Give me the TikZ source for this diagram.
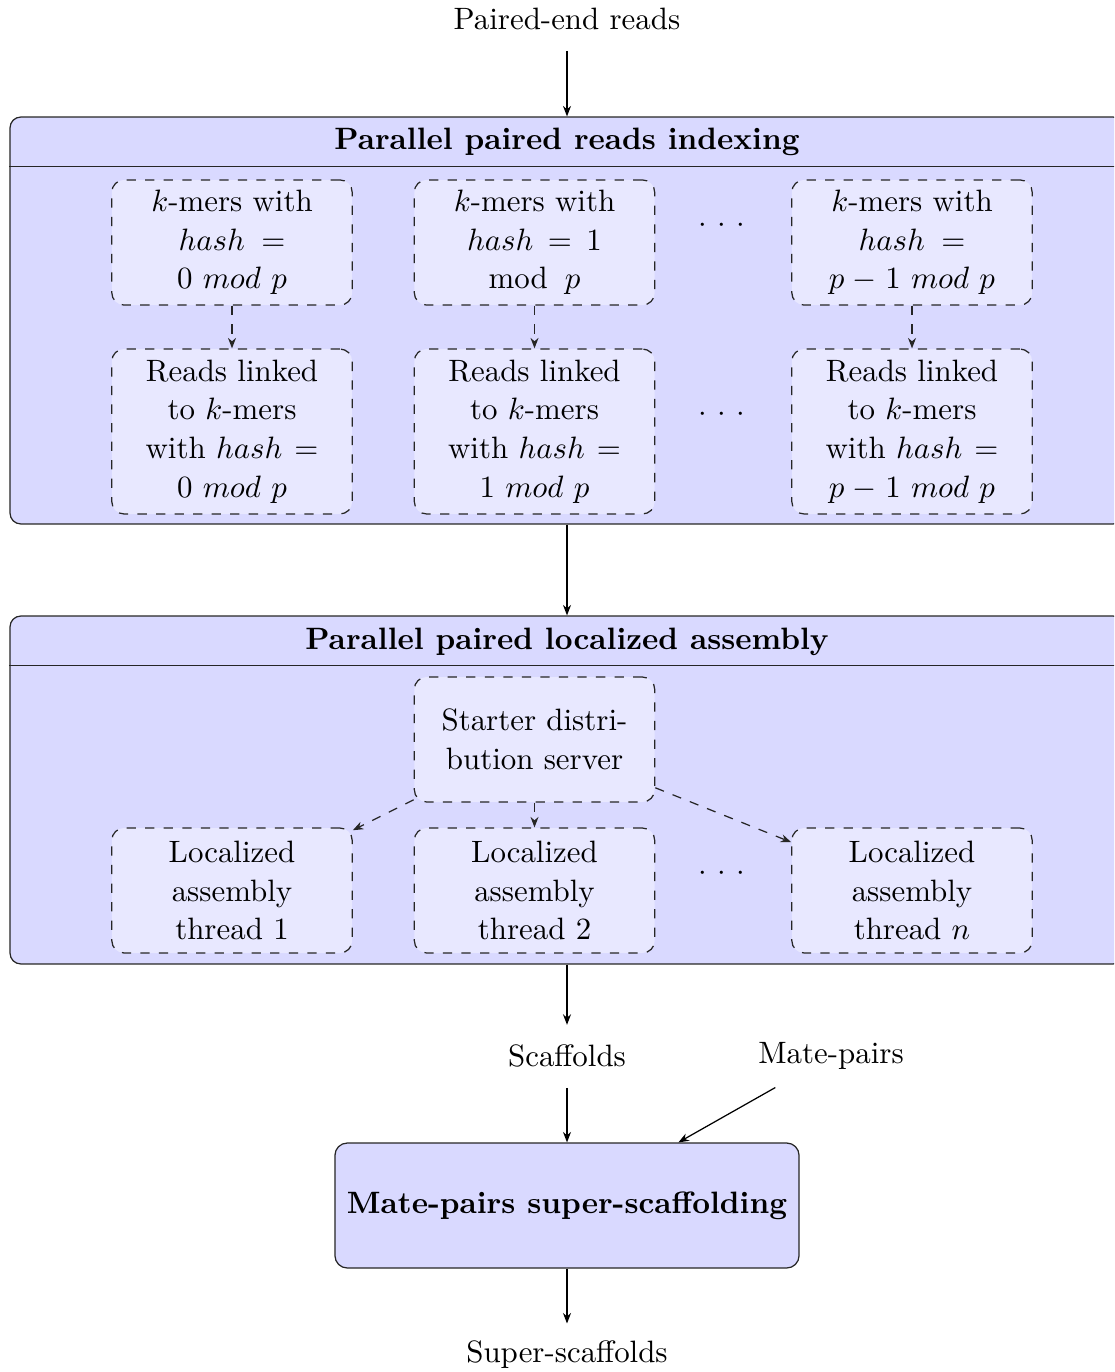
\documentclass[tikz,border=0pt]{standalone}
\usepackage{amsmath}
\usetikzlibrary{arrows.meta,calc}
\linespread{1.04}
\begin{document}
\begin{tikzpicture}[x=0.32362pt,y=-0.32362pt,
  >={Stealth[length=3.4pt,width=2.6pt]},
  flow/.style={->,black},
  link/.style={->,dashed,black!85},
  stage/.style={draw=black!85,fill=blue!15,rounded corners=3.5pt,
    minimum width=360.5pt,inner sep=0pt},
  stagetitle/.style={font=\bfseries,anchor=base,inner sep=0pt},
  task/.style={draw=black!85,dashed,fill=blue!9,rounded corners=4pt,
    text width=2.5cm,align=center,minimum height=40.45pt},
  io/.style={minimum height=20pt,inner sep=3.333pt},
  dots/.style={inner sep=1pt}
]
\clip (0,0) rectangle (1114,1372);

% input reads
\node[io] (pe) at (567,19.3) {Paired-end reads};

% stage 1: indexing
\node[stage,minimum height=131.7pt] (idx) at (567,320.5) {};
\draw[black!85] ($(idx.north west)+(0,50)$) -- ($(idx.north east)+(0,50)$);
\node[stagetitle] (idxtitle) at (567,150) {Parallel paired reads indexing};

\node[task] (k1) at (232,242.5) {$k$-mers with\\$hash =$\\$0\ mod\ p$};
\node[task] (k2) at (534.5,242.5) {$k$-mers with\\$hash = 1$\\$\mathrm{mod}\mskip10mu p$};
\node[task] (kp) at (912,242.5) {$k$-mers with\\$hash =$\\$p-1\ mod\ p$};
\node[dots] (kd) at (722,226) {${\cdot}\ {\cdot}\ {\cdot}$};

\node[task,minimum height=53.4pt] (r1) at (232,431.5) {Reads linked\\to $k$-mers\\with $hash =$\\$0\ mod\ p$};
\node[task,minimum height=53.4pt] (r2) at (534.5,431.5) {Reads linked\\to $k$-mers\\with $hash =$\\$1\ mod\ p$};
\node[task,minimum height=53.4pt] (rp) at (912,431.5) {Reads linked\\to $k$-mers\\with $hash =$\\$p-1\ mod\ p$};
\node[dots] (rd) at (722,415) {${\cdot}\ {\cdot}\ {\cdot}$};

\draw[link] (k1) -- (r1);
\draw[link] (k2) -- (r2);
\draw[link] (kp) -- (rp);

% stage 2: localized assembly
\node[stage,minimum height=112.6pt] (asm) at (567,790) {};
\draw[black!85] ($(asm.north west)+(0,50)$) -- ($(asm.north east)+(0,50)$);
\node[stagetitle] (asmtitle) at (567,649) {Parallel paired localized assembly};

\node[task] (st) at (534.5,739.5) {Starter distri-\\bution server};
\node[task] (t1) at (232,890.5) {Localized\\assembly\\thread 1};
\node[task] (t2) at (534.5,890.5) {Localized\\assembly\\thread 2};
\node[task] (tn) at (912,890.5) {Localized\\assembly\\thread $n$};
\node[dots] (td) at (722,874) {${\cdot}\ {\cdot}\ {\cdot}$};

\draw[link] (st) -- (t1);
\draw[link] (st) -- (t2);
\draw[link] (st) -- (tn);

% stage 3: super-scaffolding
\node[io] (scaf) at (567,1056.3) {Scaffolds};
\node[io] (mate) at (831,1056) {Mate-pairs};
\node[draw=black!85,fill=blue!15,rounded corners=4pt,minimum width=150.2pt,
  minimum height=40.45pt,font=\bfseries] (mp) at (567,1205.5)
  {Mate-pairs super-scaffolding};
\node[io] (sup) at (567,1355) {Super-scaffolds};

\draw[flow] (pe) -- (idx);
\draw[flow] (idx) -- (asm);
\draw[flow] (asm) -- (scaf);
\draw[flow] (scaf) -- (mp);
\draw[flow] (mate) -- (mp);
\draw[flow] (mp) -- (sup);
\end{tikzpicture}
\end{document}
